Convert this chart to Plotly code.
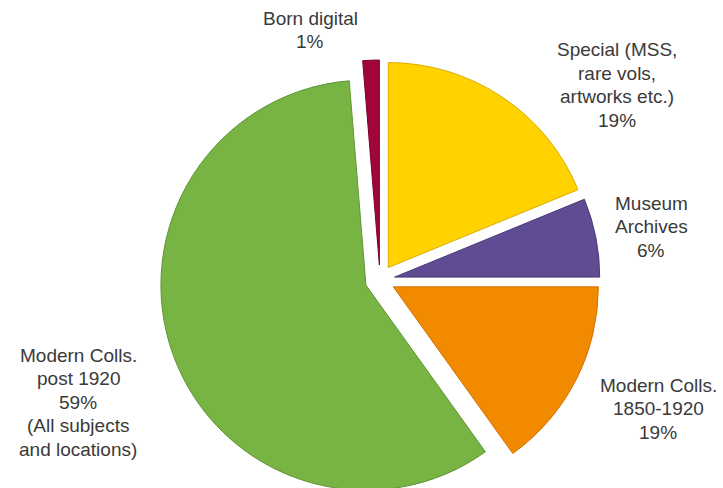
import plotly.graph_objects as go

# ---- data ----
categories = ["Special (MSS, rare vols, artworks etc.)", "Museum Archives",
              "Modern Colls. 1850-1920", "Modern Colls. post 1920", "Born digital"]
slice_values = [18.8, 6.2, 15.1, 58.6, 1.3]
label_lines = [
    ["Special (MSS,", "rare vols,", "artworks etc.)", "19%"],
    ["Museum", "Archives", "6%"],
    ["Modern Colls.", "1850-1920", "19%"],
    ["Modern Colls.", "post 1920", "59%", "(All subjects", "and locations)"],
    ["Born digital", "1%"],
]

# ---- style ----
colors = ["#FFD200", "#5F4C93", "#F28A00", "#78B443", "#A0063A"]
edge_colors = ["#D9AE00", "#4A3A7A", "#D07000", "#5E9534", "#7E0028"]
W, H = 723, 500
label_pos = [(617, 50), (651, 203), (658, 385), (78, 355), (310, 18)]  # px centre of first line
line_gap = 23.5
font = dict(family="Liberation Sans, Arial, sans-serif", size=19, color="#3A3A3A")

fig = go.Figure(go.Pie(
    labels=categories,
    values=slice_values,
    sort=False,
    direction="clockwise",
    rotation=0,
    pull=[0.073] * len(categories),
    marker=dict(colors=colors, line=dict(color=edge_colors, width=1)),
    textinfo="none",
    hoverinfo="label+percent",
    showlegend=False,
    domain=dict(x=[160 / W, 600 / W], y=[0, 440 / H]),
))

annotations = []
for (px, py), lines in zip(label_pos, label_lines):
    for k, line in enumerate(lines):
        annotations.append(dict(
            x=px / W, y=1 - (py + k * line_gap) / H,
            xref="paper", yref="paper", text=line, showarrow=False,
            xanchor="center", yanchor="middle", font=font,
        ))

fig.update_layout(
    width=W, height=H, autosize=False,
    margin=dict(l=0, r=0, t=0, b=0),
    paper_bgcolor="white", plot_bgcolor="white",
    annotations=annotations,
)

fig.write_html(
    "out.html",
    config={"displayModeBar": False},
    post_script="document.body.style.margin='0';document.body.style.overflow='hidden';"
                "document.documentElement.style.overflow='hidden';",
)
